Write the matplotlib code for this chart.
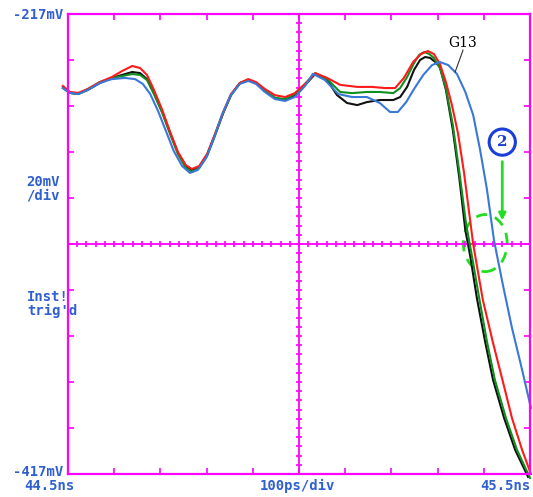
import matplotlib.pyplot as plt
from matplotlib.patches import Ellipse

# time in ps after 44.5 ns, voltage in mV
t_blue = [-11, 4, 22, 43, 69, 95, 123, 145, 162, 178, 195, 212, 229, 247, 264, 281,
          299, 316, 333, 351, 372, 390, 407, 426, 448, 470, 491, 513, 530, 556, 585,
          615, 647, 675, 697, 714, 732, 749, 769, 788, 805, 823, 842, 860, 877, 892,
          907, 922, 940, 961, 983, 1002]
v_blue = [-249.2, -251.3, -251.8, -250.0, -247.0, -245.3, -244.8, -245.3, -247.4, -251.8,
          -259.2, -267.9, -276.6, -283.1, -286.1, -284.8, -279.6, -270.9, -260.9, -252.7,
          -247.4, -246.1, -247.4, -250.9, -254.0, -254.8, -253.1, -248.3, -243.0, -245.7,
          -251.8, -253.1, -253.1, -255.7, -259.6, -259.6, -255.3, -249.6, -243.5, -239.2,
          -237.9, -239.2, -243.1, -250.9, -260.9, -276.1, -293.5, -315.3, -333.5, -353.5,
          -371.8, -388.3]

t_red = [-11, 4, 22, 43, 69, 95, 117, 139, 156, 171, 186, 204, 221, 238, 255, 268, 284,
         301, 318, 336, 353, 372, 390, 407, 426, 448, 470, 491, 513, 535, 561, 589, 626,
         658, 686, 708, 727, 747, 764, 779, 792, 805, 818, 831, 844, 857, 877, 898, 920,
         942, 961, 983, 1002]
v_red = [-248.3, -250.9, -251.3, -249.6, -246.6, -244.4, -241.8, -239.6, -240.5, -243.5,
         -250.0, -258.7, -268.3, -277.0, -282.7, -284.4, -283.1, -277.9, -269.2, -259.6,
         -251.8, -247.0, -245.3, -246.6, -249.6, -252.3, -253.1, -251.4, -247.4, -242.7,
         -244.8, -247.8, -248.7, -248.7, -249.2, -249.2, -244.8, -237.9, -234.4, -233.1,
         -234.4, -238.7, -246.6, -256.6, -268.7, -285.7, -317.0, -341.4, -360.0, -377.4,
         -392.7, -406.6, -417.0]

t_black = [-11, 4, 22, 43, 69, 95, 117, 139, 156, 171, 186, 204, 221, 238, 255, 268, 284,
           301, 318, 336, 353, 372, 390, 407, 426, 448, 470, 491, 513, 535, 561, 582, 604,
           626, 647, 675, 704, 719, 734, 749, 762, 773, 784, 795, 805, 818, 833, 847, 860,
           871, 885, 903, 920, 944, 968, 996]
v_black = [-248.7, -251.3, -251.8, -250.0, -247.0, -244.8, -243.5, -242.2, -242.7, -245.3,
           -251.4, -259.6, -268.7, -277.4, -283.1, -284.8, -283.5, -278.3, -269.6, -260.0,
           -252.2, -247.0, -245.7, -247.0, -250.5, -253.5, -254.4, -252.2, -247.9, -243.1,
           -245.7, -252.2, -255.7, -256.6, -255.3, -254.4, -254.4, -253.1, -248.7, -241.3,
           -237.0, -235.7, -236.1, -237.9, -240.0, -250.0, -267.4, -288.3, -310.9, -322.7,
           -340.5, -359.6, -376.1, -392.7, -406.6, -418.3]

t_green = [-11, 4, 22, 43, 69, 95, 117, 139, 156, 171, 186, 204, 221, 238, 255, 268, 284,
           301, 318, 336, 353, 372, 390, 407, 426, 448, 470, 491, 513, 535, 561, 589, 615,
           647, 675, 704, 719, 734, 749, 760, 771, 782, 792, 805, 818, 833, 847, 862, 875,
           890, 907, 924, 948, 972, 1000]
v_green = [-249.2, -251.3, -251.8, -249.6, -246.6, -244.8, -244.0, -243.1, -243.5, -245.7,
           -251.8, -260.0, -269.2, -277.9, -284.0, -285.7, -284.0, -278.7, -270.0, -260.0,
           -252.2, -247.0, -245.7, -247.0, -250.5, -253.5, -254.0, -251.8, -247.4, -242.7,
           -245.3, -250.9, -251.4, -250.9, -250.9, -251.4, -249.2, -244.4, -238.3, -234.8,
           -233.5, -234.4, -236.1, -240.5, -249.2, -265.3, -285.7, -308.7, -323.0, -340.5,
           -359.6, -376.1, -392.7, -406.6, -418.7]

y_top, y_bot = -217, -417
x_left_label, x_mid_label, x_right_label = '44.5ns', '100ps/div', '45.5ns'

MAG = '#ff00ff'
LBL = '#2f5fd0'

fig = plt.figure(figsize=(5.33, 4.97), dpi=100)
ax = fig.add_axes([68 / 533, 23 / 497, 462 / 533, 460 / 497])
ax.set_xlim(0, 1000)
ax.set_ylim(y_bot, y_top)

for s in ax.spines.values():
    s.set_color(MAG)
    s.set_linewidth(1.6)
ax.set_xticks(range(0, 1001, 100))
ax.set_yticks(range(y_bot, y_top + 1, 20))
ax.tick_params(direction='in', length=4, width=1.2, color=MAG,
               top=True, right=True, labelleft=False, labelbottom=False)

# centre graticule with fine ticks
ym = (y_top + y_bot) / 2
ax.axhline(ym, color=MAG, lw=1.3)
ax.axvline(500, color=MAG, lw=1.3)
ax.plot(range(0, 1001, 20), [ym] * 51, '|', color=MAG, ms=4.5, mew=1.2)
ax.plot([500] * 51, [y_bot + 4 * i for i in range(51)], '_', color=MAG, ms=4.5, mew=1.2)

lw = 1.5
ax.plot(t_black, v_black, color='#111111', lw=lw, clip_on=False)
ax.plot(t_green, v_green, color='#0f8f1f', lw=lw, clip_on=False)
ax.plot(t_red, v_red, color='#ff1a1a', lw=lw, clip_on=False)
ax.plot(t_blue, v_blue, color='#3a78d8', lw=lw, clip_on=False)

# annotations
ax.text(855, -229.6, 'G13', family='DejaVu Serif', fontsize=10, ha='center', va='center')
ax.plot([855, 838], [-232.7, -242.2], color='#333333', lw=0.8)
ax.text(940, -272.7, '2', family='DejaVu Serif', fontsize=11, fontweight='bold',
        color='#1a3fd8', ha='center', va='center',
        bbox=dict(boxstyle='circle,pad=0.4', fc='white', ec='#1a3fd8', lw=2.2))
ax.annotate('', xy=(940, -308), xytext=(940, -280),
            arrowprops=dict(arrowstyle='-|>', color='#22dd22', lw=2, mutation_scale=10))
ax.add_patch(Ellipse((903, -316.6), 95, 24.8, fill=False, ec='#22dd22', lw=2,
                     ls=(0, (4, 3))))

tk = dict(family='DejaVu Sans Mono', fontweight='bold', fontsize=10, color=LBL)
fig.text(63 / 533, 1 - 15 / 497, f'{y_top}mV', ha='right', va='center', **tk)
fig.text(63 / 533, 1 - 472 / 497, f'{y_bot}mV', ha='right', va='center', **tk)
fig.text(26 / 533, 1 - 189 / 497, '20mV\n/div', ha='left', va='center', linespacing=1.0, **tk)
fig.text(27 / 533, 1 - 304 / 497, "Inst!\ntrig'd", ha='left', va='center', linespacing=1.0, **tk)
fig.text(49 / 533, 1 - 486 / 497, x_left_label, ha='center', va='center', **tk)
fig.text(297 / 533, 1 - 486 / 497, x_mid_label, ha='center', va='center', **tk)
fig.text(505 / 533, 1 - 486 / 497, x_right_label, ha='center', va='center', **tk)

fig.savefig('out.png', dpi=100)
